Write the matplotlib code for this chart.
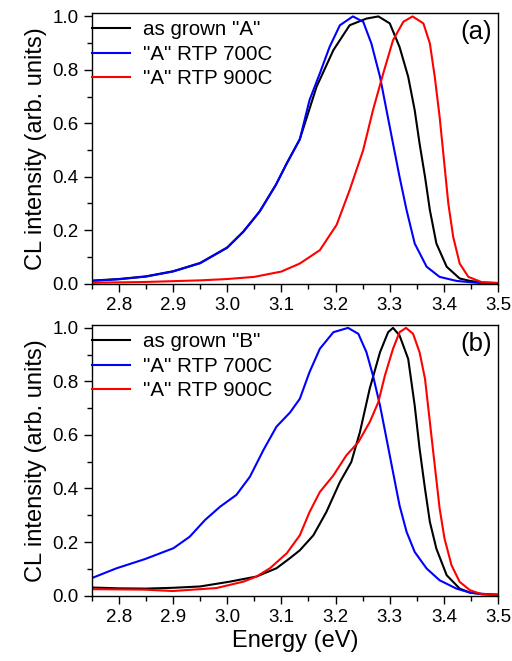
import matplotlib
matplotlib.use('Agg')
import matplotlib.pyplot as plt
from matplotlib.ticker import MultipleLocator

plt.rcParams['font.family'] = ['Liberation Sans', 'DejaVu Sans']

# panel (a)
eA_grown = [2.75, 2.80, 2.85, 2.90, 2.95, 3.00, 3.03, 3.06, 3.09, 3.11, 3.134, 3.165, 3.196, 3.226, 3.257,
            3.279, 3.300, 3.318, 3.334, 3.346, 3.355, 3.365, 3.374, 3.386, 3.405, 3.429, 3.448, 3.47, 3.5]
iA_grown = [0.011, 0.017, 0.027, 0.046, 0.077, 0.135, 0.195, 0.27, 0.37, 0.45, 0.54, 0.737, 0.874, 0.967, 0.992,
            1.0, 0.974, 0.886, 0.774, 0.649, 0.524, 0.40, 0.275, 0.15, 0.063, 0.019, 0.010, 0.004, 0.002]

eA_700 = [2.75, 2.80, 2.85, 2.90, 2.95, 3.00, 3.03, 3.06, 3.09, 3.11, 3.134, 3.152, 3.171, 3.189, 3.208,
          3.232, 3.251, 3.266, 3.282, 3.294, 3.306, 3.318, 3.331, 3.346, 3.368, 3.392, 3.423, 3.46, 3.5]
iA_700 = [0.010, 0.016, 0.026, 0.045, 0.076, 0.134, 0.194, 0.27, 0.37, 0.45, 0.54, 0.687, 0.787, 0.886, 0.967,
          1.0, 0.98, 0.899, 0.774, 0.649, 0.524, 0.40, 0.275, 0.15, 0.063, 0.025, 0.010, 0.003, 0.001]

eA_900 = [2.75, 2.85, 2.95, 3.00, 3.05, 3.10, 3.134, 3.171, 3.202, 3.226, 3.251, 3.269, 3.288, 3.306, 3.325,
          3.342, 3.362, 3.374, 3.383, 3.392, 3.400, 3.408, 3.417, 3.429, 3.445, 3.47, 3.5]
iA_900 = [0.003, 0.006, 0.012, 0.017, 0.025, 0.045, 0.075, 0.125, 0.22, 0.35, 0.50, 0.649, 0.787, 0.911, 0.98,
          1.0, 0.974, 0.899, 0.774, 0.624, 0.462, 0.30, 0.175, 0.075, 0.025, 0.005, 0.002]

# panel (b)
eB_grown = [2.75, 2.80, 2.85, 2.90, 2.95, 3.005, 3.054, 3.091, 3.116, 3.134, 3.159, 3.183, 3.208, 3.229,
            3.245, 3.263, 3.282, 3.297, 3.306, 3.318, 3.334, 3.346, 3.355, 3.365, 3.374, 3.386, 3.405,
            3.429, 3.448, 3.47, 3.5]
iB_grown = [0.030, 0.027, 0.026, 0.029, 0.034, 0.052, 0.071, 0.102, 0.14, 0.169, 0.225, 0.312, 0.424, 0.499,
            0.611, 0.773, 0.909, 0.984, 1.0, 0.972, 0.884, 0.710, 0.549, 0.399, 0.275, 0.175, 0.076,
            0.026, 0.011, 0.005, 0.003]

eB_700 = [2.75, 2.796, 2.848, 2.901, 2.931, 2.959, 2.987, 3.017, 3.042, 3.067, 3.091, 3.116, 3.134, 3.152,
          3.171, 3.196, 3.223, 3.242, 3.257, 3.269, 3.282, 3.294, 3.306, 3.318, 3.331, 3.346, 3.368, 3.392,
          3.423, 3.448, 3.48, 3.5]
iB_700 = [0.065, 0.102, 0.136, 0.177, 0.220, 0.282, 0.332, 0.376, 0.444, 0.544, 0.631, 0.684, 0.735, 0.835,
          0.922, 0.984, 1.0, 0.978, 0.909, 0.822, 0.710, 0.586, 0.461, 0.337, 0.238, 0.163, 0.101, 0.057,
          0.026, 0.011, 0.005, 0.003]

eB_900 = [2.75, 2.80, 2.848, 2.90, 2.98, 3.03, 3.054, 3.079, 3.11, 3.134, 3.152, 3.171, 3.196, 3.220, 3.242,
          3.263, 3.279, 3.291, 3.306, 3.318, 3.330, 3.343, 3.355, 3.365, 3.374, 3.383, 3.392, 3.401, 3.414,
          3.429, 3.448, 3.47, 3.5]
iB_900 = [0.024, 0.023, 0.022, 0.017, 0.028, 0.052, 0.071, 0.102, 0.158, 0.225, 0.312, 0.387, 0.449, 0.524,
          0.573, 0.648, 0.723, 0.822, 0.922, 0.984, 1.0, 0.978, 0.909, 0.810, 0.648, 0.486, 0.325, 0.213,
          0.113, 0.051, 0.020, 0.005, 0.003]

xticks = [2.8, 2.9, 3.0, 3.1, 3.2, 3.3, 3.4, 3.5]
yticks = [0.0, 0.2, 0.4, 0.6, 0.8, 1.0]

fig = plt.figure(figsize=(5.12, 6.61), dpi=100)
axA = fig.add_axes([0.179, 0.571, 0.794, 0.409])
axB = fig.add_axes([0.179, 0.099, 0.794, 0.409])

panels = [
    (axA, '(a)', [(eA_grown, iA_grown, 'black', 'as grown "A"'),
                  (eA_700, iA_700, 'blue', '"A" RTP 700C'),
                  (eA_900, iA_900, 'red', '"A" RTP 900C')], 1.012),
    (axB, '(b)', [(eB_grown, iB_grown, 'black', 'as grown "B"'),
                  (eB_700, iB_700, 'blue', '"A" RTP 700C'),
                  (eB_900, iB_900, 'red', '"A" RTP 900C')], 1.010),
]

for ax, tag, series, ytop in panels:
    for e, i, c, lab in series:
        ax.plot(e, i, color=c, lw=1.5, label=lab)
    ax.set_xlim(2.75, 3.5)
    ax.set_ylim(0, ytop)
    ax.set_xticks(xticks)
    ax.set_xticklabels([f'{v:.1f}' for v in xticks])
    ax.set_yticks(yticks)
    ax.set_yticklabels([f'{v:.1f}' for v in yticks])
    ax.xaxis.set_minor_locator(MultipleLocator(0.05))
    ax.yaxis.set_minor_locator(MultipleLocator(0.1))
    ax.tick_params(which='major', direction='out', length=6, width=1, labelsize=13.5, top=False, right=False)
    ax.tick_params(which='minor', direction='out', length=3.5, width=1, top=False, right=False)
    for s in ax.spines.values():
        s.set_linewidth(1)
    ax.set_ylabel('CL intensity (arb. units)', fontsize=17, labelpad=4)
    ax.text(0.985, 0.975, tag, transform=ax.transAxes, ha='right', va='top', fontsize=18.5)
    ax.legend(loc='upper left', bbox_to_anchor=(0.002, 0.975), frameon=False, fontsize=14.8,
              handlelength=1.85, handletextpad=0.6, labelspacing=0.28, borderaxespad=0.0, borderpad=0.0)

axB.set_xlabel('Energy (eV)', fontsize=17, labelpad=3)

fig.savefig('out.png', dpi=100)
